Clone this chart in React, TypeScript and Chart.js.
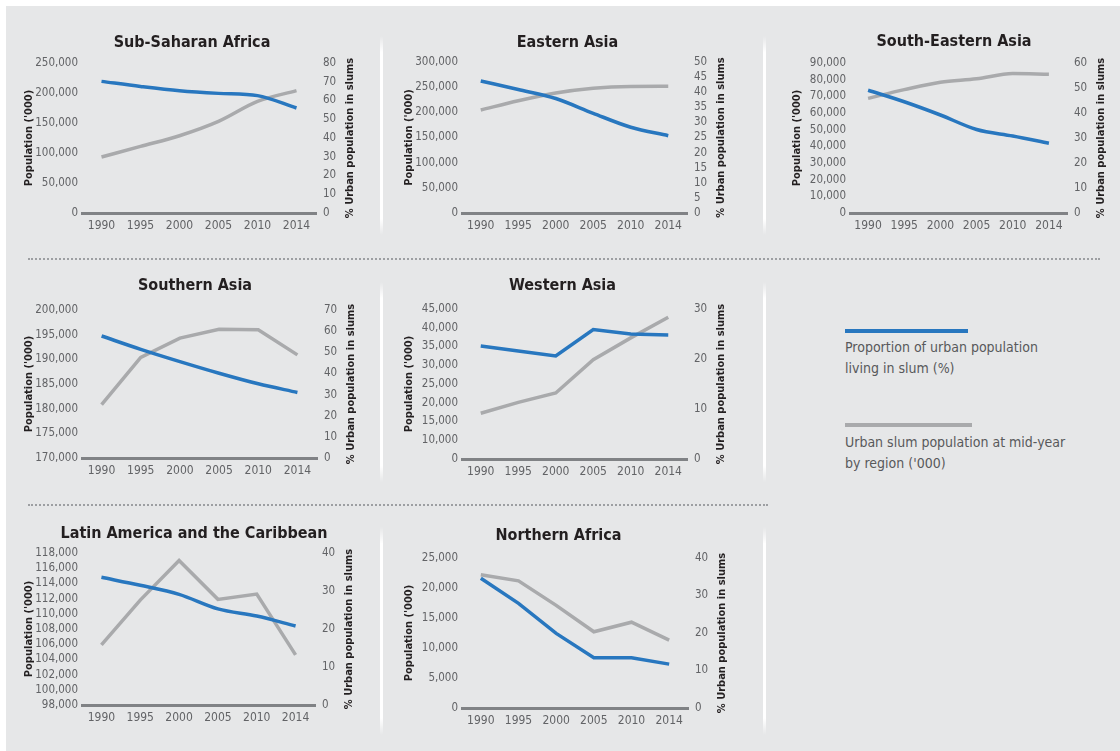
import React, { useEffect, useRef } from 'react';
import { Chart, registerables } from 'chart.js';

Chart.register(...registerables);

// ---------- data ----------
const years = ['1990', '1995', '2000', '2005', '2010', '2014'];

const ssaPercent = [70.2, 67.5, 65.2, 63.8, 62.6, 56.0];
const ssaPopulation = [93300, 111000, 128800, 152700, 186000, 204000];

const eastAsiaPercent = [43.7, 40.9, 37.9, 33.0, 28.4, 25.6];
const eastAsiaPopulation = [204500, 223000, 238500, 248000, 251500, 251800];

const seAsiaPercent = [49.1, 44.5, 39.2, 33.4, 30.8, 27.9];
const seAsiaPopulation = [68800, 74000, 78500, 80500, 83700, 83200];

const southAsiaPercent = [57.7, 51.4, 45.6, 40.1, 35.1, 31.0];
const southAsiaPopulation = [180800, 190400, 194300, 196100, 196000, 190900];

const westAsiaPercent = [22.6, 21.6, 20.6, 25.9, 25.0, 24.8];
const westAsiaPopulation = [17200, 20100, 22600, 31500, 37300, 42800];

const latamPercent = [33.6, 31.5, 29.1, 25.3, 23.4, 20.8];
const latamPopulation = [105900, 111800, 117000, 111900, 112600, 104600];

const nAfricaPercent = [34.6, 27.9, 19.9, 13.4, 13.4, 11.7];
const nAfricaPopulation = [22200, 21200, 17100, 12700, 14300, 11300];

const westAsiaLeftTickLabels = ['0', '10,000', '15,000', '20,000', '25,000', '30,000', '35,000', '40,000', '45,000'];

const legendPercentLabel = ['Proportion of urban population', 'living in slum (%)'];
const legendPopulationLabel = ['Urban slum population at mid-year', "by region ('000)"];

const leftAxisTitle = "Population ('000)";
const rightAxisTitle = '% Urban population in slums';

// ---------- style ----------
const FONT = "'Liberation Sans Narrow', 'Arial Narrow', 'DejaVu Sans Condensed', sans-serif";
const BLUE = '#2877bf';
const GREY = '#a9aaac';
const AXIS = '#808285';
const TICK = '#626366';
const BG = '#e6e7e8';

type Box = { left: number; top: number; width: number; height: number };
type Area = { left: number; right: number; top: number; bottom: number };

interface PanelDef {
  title: string;
  pct: number[];
  pop: number[];
  leftMin: number;
  leftMax: number;
  leftStep: number;
  leftLabels?: string[];
  rightMax: number;
  rightStep: number;
  smoothPct: boolean;
  smoothPop: boolean;
  box: Box;
  area: Area;
  titleY: number;
}

const panels: PanelDef[] = [
  {
    title: 'Sub-Saharan Africa', pct: ssaPercent, pop: ssaPopulation,
    leftMin: 0, leftMax: 250000, leftStep: 50000, rightMax: 80, rightStep: 10,
    smoothPct: true, smoothPop: true,
    box: { left: 14, top: 28, width: 356, height: 208 },
    area: { left: 82, right: 316, top: 63, bottom: 213 }, titleY: 43,
  },
  {
    title: 'Eastern Asia', pct: eastAsiaPercent, pop: eastAsiaPopulation,
    leftMin: 0, leftMax: 300000, leftStep: 50000, rightMax: 50, rightStep: 5,
    smoothPct: true, smoothPop: true,
    box: { left: 397, top: 28, width: 341, height: 208 },
    area: { left: 462, right: 687, top: 62, bottom: 213 }, titleY: 42.5,
  },
  {
    title: 'South-Eastern Asia', pct: seAsiaPercent, pop: seAsiaPopulation,
    leftMin: 0, leftMax: 90000, leftStep: 10000, rightMax: 60, rightStep: 10,
    smoothPct: true, smoothPop: true,
    box: { left: 789, top: 28, width: 330, height: 208 },
    area: { left: 850, right: 1067, top: 63, bottom: 213 }, titleY: 42,
  },
  {
    title: 'Southern Asia', pct: southAsiaPercent, pop: southAsiaPopulation,
    leftMin: 170000, leftMax: 200000, leftStep: 5000, rightMax: 70, rightStep: 10,
    smoothPct: true, smoothPop: false,
    box: { left: 14, top: 272, width: 362, height: 208 },
    area: { left: 82, right: 317, top: 310, bottom: 458 }, titleY: 286,
  },
  {
    title: 'Western Asia', pct: westAsiaPercent, pop: westAsiaPopulation,
    leftMin: 5000, leftMax: 45000, leftStep: 5000, leftLabels: westAsiaLeftTickLabels,
    rightMax: 30, rightStep: 10,
    smoothPct: false, smoothPop: false,
    box: { left: 397, top: 272, width: 331, height: 208 },
    area: { left: 462, right: 687, top: 309, bottom: 459 }, titleY: 286,
  },
  {
    title: 'Latin America and the Caribbean', pct: latamPercent, pop: latamPopulation,
    leftMin: 98000, leftMax: 118000, leftStep: 2000, rightMax: 40, rightStep: 10,
    smoothPct: true, smoothPop: false,
    box: { left: 14, top: 516, width: 360, height: 215 },
    area: { left: 82, right: 315, top: 553, bottom: 705 }, titleY: 533.5,
  },
  {
    title: 'Northern Africa', pct: nAfricaPercent, pop: nAfricaPopulation,
    leftMin: 0, leftMax: 25000, leftStep: 5000, rightMax: 40, rightStep: 10,
    smoothPct: false, smoothPop: false,
    box: { left: 390, top: 516, width: 337, height: 215 },
    area: { left: 462, right: 688, top: 558, bottom: 708 }, titleY: 536,
  },
];

const axisTitlePlugin = {
  id: 'slumAxisTitles',
  afterDraw(chart: any) {
    const { ctx, chartArea } = chart;
    const cy = (chartArea.top + chartArea.bottom) / 2;
    ctx.save();
    ctx.font = `bold 11px ${FONT}`;
    ctx.fillStyle = '#231f20';
    ctx.textAlign = 'center';
    ctx.textBaseline = 'middle';
    ctx.translate(chartArea.left - 53, cy);
    ctx.rotate(-Math.PI / 2);
    ctx.fillText(leftAxisTitle, 0, 0);
    ctx.restore();
    ctx.save();
    ctx.font = `bold 11px ${FONT}`;
    ctx.fillStyle = '#231f20';
    ctx.textAlign = 'center';
    ctx.textBaseline = 'middle';
    ctx.translate(chartArea.right + 34, cy);
    ctx.rotate(-Math.PI / 2);
    ctx.fillText(rightAxisTitle, 0, 0);
    ctx.restore();
  },
};

function Panel({ def }: { def: PanelDef }) {
  const ref = useRef<HTMLCanvasElement>(null);
  useEffect(() => {
    if (!ref.current) return;
    const { box, area } = def;
    const titleSize = 16;
    const titleLine = titleSize * 1.2;
    const padTop = def.titleY - box.top - titleLine / 2;
    const padBottom = area.top - box.top - titleLine - padTop;
    const leftW = area.left - box.left;
    const rightW = box.left + box.width - area.right;
    const bottomH = box.top + box.height - area.bottom;
    const chart = new Chart(ref.current, {
      type: 'line',
      data: {
        labels: years,
        datasets: [
          {
            label: legendPercentLabel.join(' '),
            data: def.pct,
            yAxisID: 'y1',
            borderColor: BLUE,
            backgroundColor: BLUE,
            borderWidth: 3.5,
            pointRadius: 0,
            cubicInterpolationMode: def.smoothPct ? 'monotone' : 'default',
            tension: 0,
          },
          {
            label: legendPopulationLabel.join(' '),
            data: def.pop,
            yAxisID: 'y',
            borderColor: GREY,
            backgroundColor: GREY,
            borderWidth: 3.5,
            pointRadius: 0,
            cubicInterpolationMode: def.smoothPop ? 'monotone' : 'default',
            tension: 0,
          },
        ],
      },
      options: {
        responsive: false,
        animation: false,
        layout: { padding: 0 },
        plugins: {
          legend: { display: false },
          tooltip: { enabled: false },
          title: {
            display: true,
            text: def.title,
            color: '#231f20',
            font: { family: FONT, size: titleSize, weight: 'bold', lineHeight: 1.2 },
            padding: { top: padTop, bottom: padBottom },
          },
        },
        scales: {
          x: {
            type: 'category',
            offset: true,
            grid: { display: false, drawTicks: false },
            border: { display: true, color: AXIS, width: 3 },
            ticks: {
              color: TICK,
              font: { family: FONT, size: 12 },
              padding: 6,
              maxRotation: 0,
              autoSkip: false,
            },
            afterFit: (s: any) => { s.height = bottomH; },
          },
          y: {
            type: 'linear',
            position: 'left',
            min: def.leftMin,
            max: def.leftMax,
            grid: { display: false, drawTicks: false },
            border: { display: false },
            ticks: {
              stepSize: def.leftStep,
              autoSkip: false,
              color: TICK,
              font: { family: FONT, size: 11.5 },
              padding: 4,
              callback: (v: any, i: number) =>
                def.leftLabels ? def.leftLabels[i] : Number(v).toLocaleString('en-US'),
            },
            afterFit: (s: any) => { s.width = leftW; },
          },
          y1: {
            type: 'linear',
            position: 'right',
            min: 0,
            max: def.rightMax,
            grid: { display: false, drawTicks: false },
            border: { display: false },
            ticks: {
              stepSize: def.rightStep,
              autoSkip: false,
              color: TICK,
              font: { family: FONT, size: 11.5 },
              padding: 7,
            },
            afterFit: (s: any) => { s.width = rightW; },
          },
        },
      },
      plugins: [axisTitlePlugin],
    } as any);
    return () => chart.destroy();
  }, [def]);
  const { box } = def;
  return (
    <canvas
      ref={ref}
      width={box.width}
      height={box.height}
      style={{ position: 'absolute', left: box.left, top: box.top, width: box.width, height: box.height }}
    />
  );
}

const vLine = (left: number, top: number, height: number, key: string) => (
  <div
    key={key}
    style={{
      position: 'absolute', left, top, width: 3, height,
      background: 'linear-gradient(to bottom, rgba(255,255,255,0), #fff 8%, #fff 92%, rgba(255,255,255,0))',
    }}
  />
);

export default function App() {
  const textStyle: React.CSSProperties = {
    position: 'absolute', left: 845, fontFamily: FONT, fontSize: 14, lineHeight: '21px',
    color: '#58595b', whiteSpace: 'nowrap',
  };
  return (
    <div style={{ position: 'fixed', left: 0, top: 0, width: 1120, height: 751, overflow: 'hidden', background: '#fff' }}>
      <div style={{ position: 'absolute', left: 6, top: 6, right: 0, bottom: 0, background: BG }} />
      {vLine(380, 36, 199, 'a1')}
      {vLine(380, 282, 200, 'a2')}
      {vLine(380, 527, 208, 'a3')}
      {vLine(763, 36, 199, 'b1')}
      {vLine(763, 282, 200, 'b2')}
      {vLine(763, 527, 208, 'b3')}
      <div style={{ position: 'absolute', left: 28, top: 258, width: 1072, borderTop: '2px dotted #9d9fa2' }} />
      <div style={{ position: 'absolute', left: 28, top: 504, width: 740, borderTop: '2px dotted #9d9fa2' }} />
      {panels.map((p) => <Panel key={p.title} def={p} />)}
      <div style={{ position: 'absolute', left: 845, top: 329, width: 123, height: 4, background: BLUE }} />
      <div style={{ ...textStyle, top: 337 }}>
        {legendPercentLabel[0]}<br />{legendPercentLabel[1]}
      </div>
      <div style={{ position: 'absolute', left: 845, top: 423, width: 127, height: 4, background: GREY }} />
      <div style={{ ...textStyle, top: 432 }}>
        {legendPopulationLabel[0]}<br />{legendPopulationLabel[1]}
      </div>
    </div>
  );
}
